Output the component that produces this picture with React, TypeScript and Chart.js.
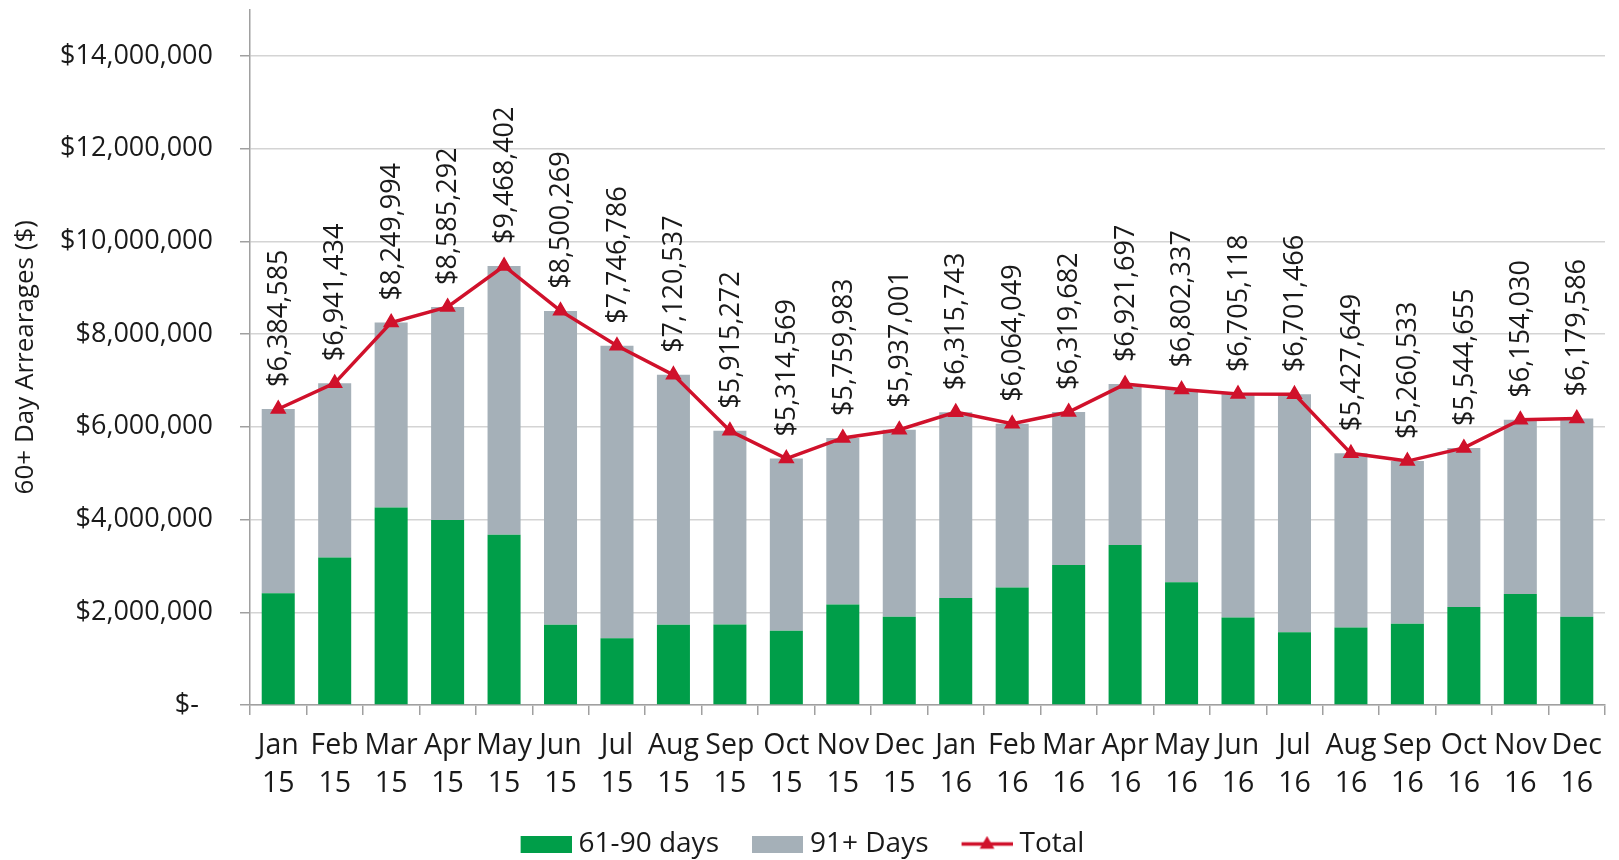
import React, { useEffect, useRef } from 'react';
import { Chart, registerables } from 'chart.js';

Chart.register(...registerables);

const monthLabels = ['Jan', 'Feb', 'Mar', 'Apr', 'May', 'Jun', 'Jul', 'Aug', 'Sep', 'Oct', 'Nov', 'Dec', 'Jan', 'Feb', 'Mar', 'Apr', 'May', 'Jun', 'Jul', 'Aug', 'Sep', 'Oct', 'Nov', 'Dec'];
const yearLabels = ['15', '15', '15', '15', '15', '15', '15', '15', '15', '15', '15', '15', '16', '16', '16', '16', '16', '16', '16', '16', '16', '16', '16', '16'];

const days61to90 = [2410000, 3180000, 4260000, 3990000, 3670000, 1730000, 1440000, 1730000, 1735000, 1600000, 2170000, 1905000, 2305000, 2535000, 3020000, 3450000, 2650000, 1885000, 1570000, 1670000, 1755000, 2115000, 2395000, 1905000];
const days91plus = [3975000, 3761000, 3990000, 4595000, 5798000, 6770000, 6307000, 5391000, 4180000, 3715000, 3590000, 4032000, 4011000, 3529000, 3300000, 3472000, 4152000, 4820000, 5131000, 3758000, 3506000, 3430000, 3759000, 4275000];
const totals = [6384585, 6941434, 8249994, 8585292, 9468402, 8500269, 7746786, 7120537, 5915272, 5314569, 5759983, 5937001, 6315743, 6064049, 6319682, 6921697, 6802337, 6705118, 6701466, 5427649, 5260533, 5544655, 6154030, 6179586];

const yTickValues = [0, 2000000, 4000000, 6000000, 8000000, 10000000, 12000000, 14000000];
const seriesNames = ['61-90 days', '91+ Days', 'Total'];

const FONT = "'Open Sans', 'Noto Sans', sans-serif";
const GREEN = '#009e49';
const GRAY = '#a5b0b8';
const RED = '#d0112b';
const TEXT = '#1a1a1a';

function boxIcon(color: string): HTMLCanvasElement {
  const c = document.createElement('canvas');
  c.width = 58;
  c.height = 17;
  const ctx = c.getContext('2d')!;
  ctx.fillStyle = color;
  ctx.fillRect(7, 0, 51, 17);
  return c;
}

function lineIcon(color: string): HTMLCanvasElement {
  const c = document.createElement('canvas');
  c.width = 58;
  c.height = 17;
  const ctx = c.getContext('2d')!;
  ctx.strokeStyle = color;
  ctx.lineWidth = 3.5;
  ctx.beginPath();
  ctx.moveTo(7, 8.5);
  ctx.lineTo(58, 8.5);
  ctx.stroke();
  ctx.fillStyle = color;
  const cx = 32.5, cy = 9, r = 8.5;
  ctx.beginPath();
  ctx.moveTo(cx, cy - r);
  ctx.lineTo(cx + r * 0.866, cy + r * 0.5);
  ctx.lineTo(cx - r * 0.866, cy + r * 0.5);
  ctx.closePath();
  ctx.fill();
  return c;
}

const money = (v: number) => '$' + v.toLocaleString('en-US');

export default function App() {
  const ref = useRef<HTMLCanvasElement>(null);

  useEffect(() => {
    if (!ref.current) return;
    const labels = monthLabels.map((m, i) => [m, yearLabels[i]]);

    const totalLabels = {
      id: 'totalLabels',
      afterDatasetsDraw(chart: any) {
        const meta = chart.getDatasetMeta(2);
        const ctx = chart.ctx;
        ctx.save();
        ctx.font = `27px ${FONT}`;
        ctx.fillStyle = TEXT;
        ctx.textAlign = 'left';
        ctx.textBaseline = 'middle';
        meta.data.forEach((pt: any, i: number) => {
          ctx.save();
          ctx.translate(pt.x, pt.y - 22);
          ctx.rotate(-Math.PI / 2);
          ctx.fillText(money(totals[i]), 0, 1);
          ctx.restore();
        });
        ctx.restore();
      },
    };

    const icons = [boxIcon(GREEN), boxIcon(GRAY), lineIcon(RED)];

    const chart = new Chart(ref.current, {
      type: 'bar',
      data: {
        labels,
        datasets: [
          {
            type: 'bar',
            label: seriesNames[0],
            data: days61to90,
            backgroundColor: GREEN,
            stack: 'bars',
            barPercentage: 0.585,
            categoryPercentage: 1,
            order: 1,
          },
          {
            type: 'bar',
            label: seriesNames[1],
            data: days91plus,
            backgroundColor: GRAY,
            stack: 'bars',
            barPercentage: 0.585,
            categoryPercentage: 1,
            order: 1,
          },
          {
            type: 'line',
            label: seriesNames[2],
            data: totals,
            borderColor: RED,
            backgroundColor: RED,
            borderWidth: 3.5,
            pointStyle: 'triangle',
            pointRadius: 8,
            pointBackgroundColor: RED,
            pointBorderColor: RED,
            pointBorderWidth: 1.5,
            tension: 0,
            stack: 'line',
            order: -1,
          } as any,
        ],
      },
      options: {
        animation: false,
        responsive: true,
        maintainAspectRatio: false,
        layout: { padding: { top: 5, right: 14, left: 0, bottom: 0 } },
        plugins: {
          tooltip: { enabled: false },
          legend: {
            position: 'bottom',
            labels: {
              usePointStyle: true,
              pointStyleWidth: 44,
              boxHeight: 17,
              padding: 33,
              color: TEXT,
              font: { family: FONT, size: 28 },
              generateLabels: () =>
                seriesNames.map((name, i) => ({
                  text: name,
                  pointStyle: icons[i] as any,
                  fillStyle: 'transparent',
                  strokeStyle: 'transparent',
                  lineWidth: 0,
                  hidden: false,
                  datasetIndex: i,
                  fontColor: TEXT,
                })),
            },
          },
        },
        scales: {
          x: {
            stacked: true,
            offset: true,
            afterFit: (scale: any) => {
              scale.height = 92;
            },
            grid: {
              offset: true,
              drawOnChartArea: false,
              drawTicks: true,
              tickLength: 10,
              color: '#a0a0a0',
              lineWidth: 1.5,
            },
            border: { color: '#a0a0a0', width: 1.5 },
            ticks: {
              color: TEXT,
              padding: 12,
              maxRotation: 0,
              autoSkip: false,
              font: { family: FONT, size: 28.5, lineHeight: 1.333 },
            },
          },
          y: {
            stacked: true,
            min: 0,
            max: 15000000,
            afterBuildTicks: (scale: any) => {
              scale.ticks = yTickValues.map((v) => ({ value: v }));
            },
            afterFit: (scale: any) => {
              scale.width = 250;
              scale.paddingTop = 0;
              scale.paddingBottom = 0;
            },
            grid: {
              color: '#d4d4d4',
              lineWidth: 1.5,
              drawTicks: true,
              tickLength: 10,
              tickColor: '#a0a0a0',
            },
            border: { color: '#a0a0a0', width: 1.5 },
            ticks: {
              color: TEXT,
              padding: 27,
              font: { family: FONT, size: 27 },
              callback: (v: any) => (Number(v) === 0 ? '$-  ' : money(Number(v))),
            },
            title: {
              display: true,
              text: '60+ Day Arrearages ($)',
              color: TEXT,
              font: { family: FONT, size: 26 },
              padding: { top: 10, bottom: 0 },
            },
          },
        },
      },
      plugins: [totalLabels],
    });

    return () => chart.destroy();
  }, []);

  return (
    <div style={{ position: 'fixed', left: 0, top: 0, width: 1619, height: 868, background: '#ffffff' }}>
      <canvas ref={ref} />
    </div>
  );
}
